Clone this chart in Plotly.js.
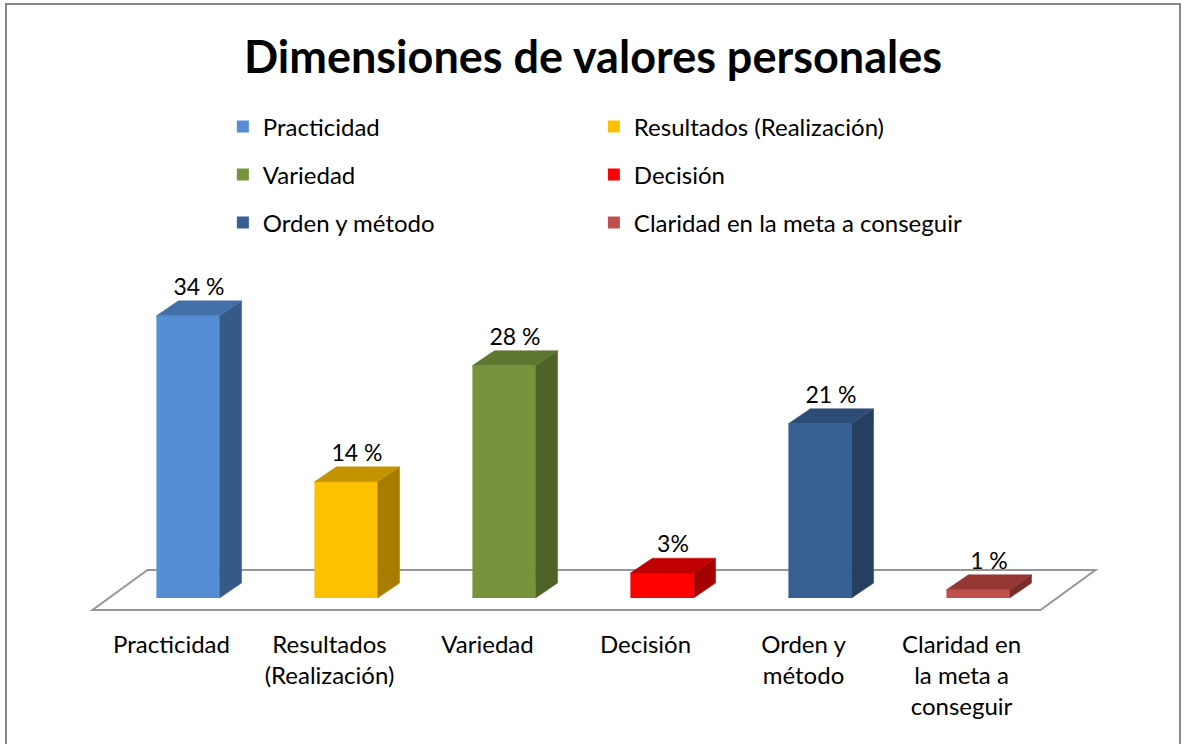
<!DOCTYPE html>
<html>
<head>
<meta charset="utf-8">
<script src="https://cdn.plot.ly/plotly-3.0.1.min.js"></script>
<style>html,body{margin:0;padding:0;background:#fff;}#chart{width:1186px;height:744px;}</style>
</head>
<body>
<div id="chart"></div>
<script>
// ---- data ----
const categories = ['Practicidad', 'Resultados (Realización)', 'Variedad', 'Decisión', 'Orden y método', 'Claridad en la meta a conseguir'];
const tickLabels = ['Practicidad', 'Resultados<br>(Realización)', 'Variedad', 'Decisión', 'Orden y<br>método', 'Claridad en<br>la meta a<br>conseguir'];
const values = [34, 14, 28, 3, 21, 1];
const valueLabels = ['34 %', '14 %', '28 %', '3%', '21 %', '1 %'];
const frontColors = ['#558ED5', '#FFC000', '#77933C', '#FF0000', '#376092', '#C0504D'];
const topColors   = ['#4470A8', '#C49300', '#5F7630', '#C00000', '#2C4D75', '#953735'];
const sideColors  = ['#355A88', '#A67D00', '#4F6228', '#A50000', '#243F60', '#7A2E2C'];

// ---- geometry (layout constants) ----
const W = 1186, H = 744;
const L = 60, R = 1140, T = 260, B = 620;
const originPx = 188, originPy = 598;      // pixel of category 0 front-face centre at value 0
const pxPerCat = 158, pxPerPct = 8.3;
const barWidth = 0.4;
const depthX = 0.139, depthY = 1.8;          // bar depth offset (category units, % units)
const floorDX = 0.348, floorDY = 4.82;       // full floor depth
const barDepthStart = 0.3;                   // bar front face position along floor depth

const xRange = [(L - originPx) / pxPerCat, (R - originPx) / pxPerCat];
const yRange = [(originPy - B) / pxPerPct, (originPy - T) / pxPerPct];
const n = categories.length;
const idx = categories.map((_, i) => i);
const frontShiftX = barDepthStart * floorDX, frontShiftY = barDepthStart * floorDY;

const FONT = 'Lato, sans-serif';
const traces = [];
// side and top faces
idx.forEach(i => {
  const v = values[i], hw = barWidth / 2;
  traces.push({
    type: 'scatter', mode: 'lines', fill: 'toself', showlegend: false, hoverinfo: 'skip',
    x: [i + hw, i + hw + depthX, i + hw + depthX, i + hw, i + hw],
    y: [0, depthY, v + depthY, v, 0],
    fillcolor: sideColors[i], line: {color: sideColors[i], width: 0.5}
  });
  traces.push({
    type: 'scatter', mode: 'lines', fill: 'toself', showlegend: false, hoverinfo: 'skip',
    x: [i - hw, i + hw, i + hw + depthX, i - hw + depthX, i - hw],
    y: [v, v, v + depthY, v + depthY, v],
    fillcolor: topColors[i], line: {color: topColors[i], width: 0.5}
  });
});
// front faces (legend entries)
idx.forEach(i => {
  const row = Math.floor(i / 2);
  traces.push({
    type: 'bar', x: [i], y: [values[i]], name: categories[i], width: barWidth,
    marker: {color: frontColors[i], line: {width: 0}},
    legend: row === 0 ? 'legend' : 'legend' + (row + 1),
    hoverinfo: 'skip'
  });
});
// value labels
traces.push({
  type: 'scatter', mode: 'text', showlegend: false, hoverinfo: 'skip', cliponaxis: false,
  x: idx.map(i => i + depthX / 2),
  y: values.map(v => v + depthY),
  text: valueLabels, textposition: 'top center',
  textfont: {family: FONT, size: 23, color: '#000'}
});

// floor parallelogram
const fx0 = -0.5 - frontShiftX, fx1 = n - 0.5 - frontShiftX, fy0 = -frontShiftY;
const floorPath = `M ${fx0},${fy0} L ${fx1},${fy0} L ${fx1 + floorDX},${fy0 + floorDY} L ${fx0 + floorDX},${fy0 + floorDY} Z`;

const legendFont = {family: FONT, size: 24, color: '#000'};
const legendBase = {orientation: 'h', entrywidth: 326, entrywidthmode: 'pixels', x: 0.1508, xanchor: 'left', yanchor: 'middle', font: legendFont, bgcolor: 'rgba(0,0,0,0)', traceorder: 'normal'};
const py2paper = py => (B - py) / (B - T);
const px2paper = px => (px - L) / (R - L);

const layout = {
  width: W, height: H,
  margin: {l: L, r: W - R, t: T, b: H - B},
  paper_bgcolor: '#fff', plot_bgcolor: '#fff',
  title: {text: '<b>Dimensiones de valores personales</b>', x: 0.5, xanchor: 'center', y: 1 - 57 / H, yanchor: 'middle',
          font: {family: FONT, size: 45, color: '#000'}},
  barmode: 'overlay',
  showlegend: true,
  legend: Object.assign({}, legendBase, {y: py2paper(127)}),
  legend2: Object.assign({}, legendBase, {y: py2paper(175)}),
  legend3: Object.assign({}, legendBase, {y: py2paper(223)}),
  xaxis: {range: xRange, showgrid: false, zeroline: false, showline: false, ticks: '',
          tickmode: 'array', tickvals: idx.map(i => i - frontShiftX), ticktext: tickLabels, ticklabelstandoff: 8,
          tickfont: {family: FONT, size: 24, color: '#000'}, fixedrange: true},
  yaxis: {range: yRange, showgrid: false, zeroline: false, showline: false, showticklabels: false, ticks: '', fixedrange: true},
  shapes: [
    {type: 'path', xref: 'x', yref: 'y', path: floorPath, layer: 'below', line: {color: '#969696', width: 2}, fillcolor: 'rgba(0,0,0,0)'},
    {type: 'rect', xref: 'paper', yref: 'paper', x0: px2paper(6), x1: px2paper(1180), y0: py2paper(760), y1: py2paper(4),
     line: {color: '#878787', width: 2}, fillcolor: 'rgba(0,0,0,0)', layer: 'below'}
  ]
};

Plotly.newPlot('chart', traces, layout, {displayModeBar: false, staticPlot: true});
</script>
</body>
</html>
